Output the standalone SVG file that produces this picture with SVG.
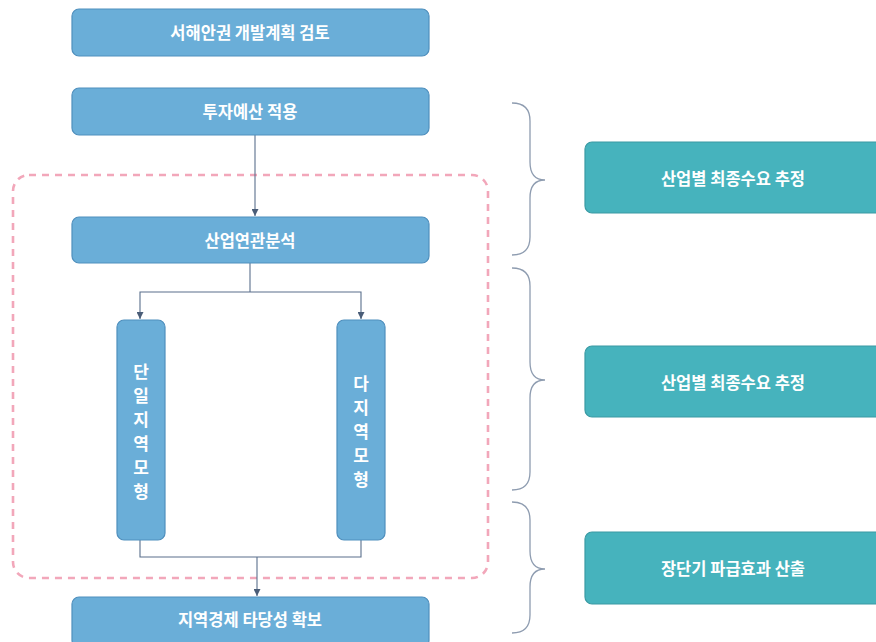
<svg xmlns="http://www.w3.org/2000/svg" width="876" height="642" viewBox="0 0 876 642">
<defs>
<style>
.blue{fill:#6aaed8;stroke:#4f8fbd;stroke-width:1.2}
.teal{fill:#46b3bd;stroke:#3a9aa3;stroke-width:1.2}
.t{font-family:"Noto Sans CJK KR","Noto Sans",sans-serif;font-size:16.5px;font-weight:700;fill:#fff;text-anchor:middle;dominant-baseline:central}
.v{font-family:"Noto Sans CJK KR","Noto Sans",sans-serif;font-size:17px;font-weight:700;fill:#fff;text-anchor:middle;dominant-baseline:central}
.ln{fill:none;stroke:#5a6f8c;stroke-width:1.1}
.br{fill:none;stroke:#8e9cb0;stroke-width:1.3}
</style>
<marker id="ah" viewBox="0 0 10 10" refX="10" refY="5" markerWidth="7" markerHeight="7" orient="auto" markerUnits="userSpaceOnUse">
<path d="M0,0 L10,5 L0,10 z" fill="#4a5d78"/>
</marker>
</defs>
<rect width="876" height="642" fill="#fff"/>
<g id="group-dashed">
<rect x="13" y="175" width="475" height="403" rx="16" fill="none" stroke="#f2a7ba" stroke-width="2.6" stroke-dasharray="7,6"/>
</g>
<g id="connectors">
<line class="ln" x1="255" y1="135" x2="255" y2="216" marker-end="url(#ah)"/>
<polyline class="ln" points="250,263 250,292"/>
<polyline class="ln" points="140,318 140,292 361,292 361,318"/>
<line x1="140" y1="312" x2="140" y2="319" class="ln" marker-end="url(#ah)"/>
<line x1="361" y1="312" x2="361" y2="319" class="ln" marker-end="url(#ah)"/>
<polyline class="ln" points="140,540 140,557 361,557 361,540"/>
<line class="ln" x1="257" y1="557" x2="257" y2="596" marker-end="url(#ah)"/>
</g>
<g id="n1"><rect class="blue" x="72" y="9" width="357" height="47" rx="7"/><text class="t" x="250" y="32">서해안권 개발계획 검토</text></g>
<g id="n2"><rect class="blue" x="72" y="88" width="357" height="47" rx="7"/><text class="t" x="250" y="111">투자예산 적용</text></g>
<g id="n3"><rect class="blue" x="72" y="217" width="357" height="46" rx="7"/><text class="t" x="250" y="240">산업연관분석</text></g>
<g id="n4"><rect class="blue" x="117" y="320" width="48" height="220" rx="7"/>
<text class="v" x="141" y="370">단</text><text class="v" x="141" y="394">일</text><text class="v" x="141" y="418">지</text><text class="v" x="141" y="442">역</text><text class="v" x="141" y="466">모</text><text class="v" x="141" y="490">형</text></g>
<g id="n5"><rect class="blue" x="337" y="320" width="48" height="220" rx="7"/>
<text class="v" x="361" y="382">다</text><text class="v" x="361" y="406">지</text><text class="v" x="361" y="430">역</text><text class="v" x="361" y="454">모</text><text class="v" x="361" y="478">형</text></g>
<g id="n6"><rect class="blue" x="72" y="597" width="357" height="50" rx="7"/><text class="t" x="250" y="619">지역경제 타당성 확보</text></g>
<g id="braces">
<path class="br" d="M512,103 Q530,103 530,121 L530,162 Q530,180 545,180 Q530,180 530,198 L530,237 Q530,255 512,255"/>
<path class="br" d="M512,268 Q530,268 530,286 L530,362 Q530,380 545,380 Q530,380 530,398 L530,472 Q530,490 512,490"/>
<path class="br" d="M512,502 Q530,502 530,520 L530,551 Q530,569 545,569 Q530,569 530,587 L530,615 Q530,633 512,633"/>
</g>
<g id="r1"><rect class="teal" x="585" y="142" width="300" height="71" rx="7"/><text class="t" x="733" y="178">산업별 최종수요 추정</text></g>
<g id="r2"><rect class="teal" x="585" y="346" width="300" height="71" rx="7"/><text class="t" x="733" y="382">산업별 최종수요 추정</text></g>
<g id="r3"><rect class="teal" x="585" y="532" width="300" height="72" rx="7"/><text class="t" x="733" y="568">장단기 파급효과 산출</text></g>
</svg>
